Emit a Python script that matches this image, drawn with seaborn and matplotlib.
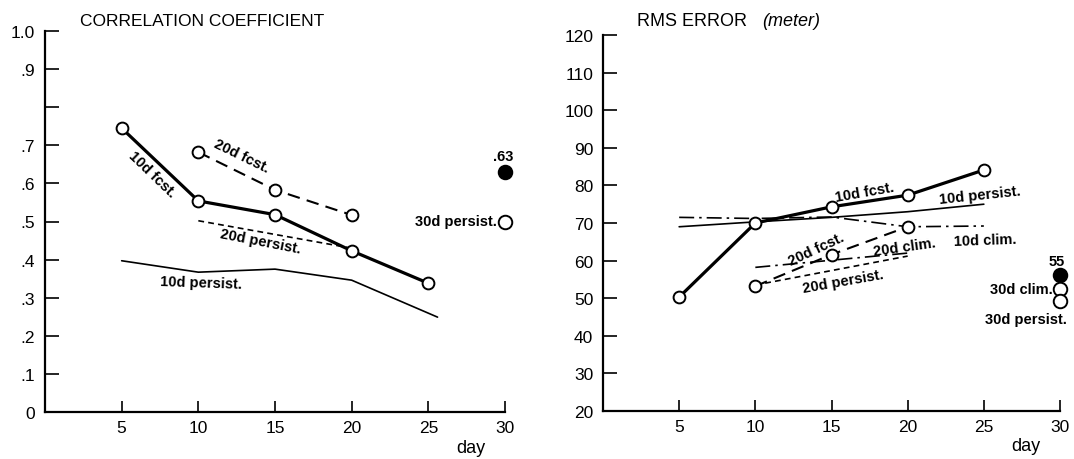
import matplotlib
matplotlib.use("Agg")
import matplotlib.pyplot as plt
from matplotlib import font_manager
import seaborn as sns
import pandas as pd

# ---------------- data ----------------
# Correlation coefficient panel
cc_10d_fcst_x = [5, 10, 15, 20, 25]
cc_10d_fcst_y = [0.745, 0.554, 0.518, 0.423, 0.338]
cc_20d_fcst_x = [10, 15, 20]
cc_20d_fcst_y = [0.682, 0.583, 0.517]
cc_20d_persist_x = [10, 20]
cc_20d_persist_y = [0.502, 0.430]
cc_10d_persist_x = [5, 10, 15, 20, 25.6]
cc_10d_persist_y = [0.397, 0.367, 0.375, 0.346, 0.249]
cc_30d_x = [30]
cc_30d_persist_y = [0.50]
cc_30d_fcst_y = [0.63]

# RMS error panel
rms_10d_fcst_x = [5, 10, 15, 20, 25]
rms_10d_fcst_y = [50.3, 70.0, 74.3, 77.4, 84.1]
rms_10d_persist_x = [5, 10, 15, 20, 25]
rms_10d_persist_y = [69.0, 70.3, 71.5, 73.0, 75.0]
rms_10d_clim_x = [5, 10, 15, 20, 25]
rms_10d_clim_y = [71.5, 71.2, 71.6, 69.0, 69.2]
rms_20d_fcst_x = [10, 15, 20]
rms_20d_fcst_y = [53.2, 61.6, 69.0]
rms_20d_clim_x = [10, 20]
rms_20d_clim_y = [58.2, 62.0]
rms_20d_persist_x = [10, 20]
rms_20d_persist_y = [53.5, 61.2]
rms_30d_x = [30]
rms_30d_fcst_y = [56.2]
rms_30d_clim_y = [52.5]
rms_30d_persist_y = [49.2]

cc_yticks = [0, .1, .2, .3, .4, .5, .6, .7, .8, .9, 1.0]
cc_yticklabels = ["0", ".1", ".2", ".3", ".4", ".5", ".6", ".7", "", ".9", "1.0"]
rms_yticks = [20, 30, 40, 50, 60, 70, 80, 90, 100, 110, 120]
xticks = [5, 10, 15, 20, 25, 30]

# ---------------- style ----------------
sns.set_style("ticks")
avail = {f.name for f in font_manager.fontManager.ttflist}
narrow = "Liberation Sans Narrow" if "Liberation Sans Narrow" in avail else "Liberation Sans"
plt.rcParams["font.family"] = ["Liberation Sans", "DejaVu Sans"]

fig = plt.figure(figsize=(10.74, 4.6), dpi=100)
ax1 = fig.add_axes([45 / 1074, 47 / 460, 460 / 1074, 381 / 460])
ax2 = fig.add_axes([603 / 1074, 48 / 460, 457 / 1074, 376 / 460])

K = "black"
THICK = 2.3
THIN = 1.2
MS = 8.5


def line(ax, x, y, lw, ls="-", marker=None):
    df = pd.DataFrame({"x": x, "y": y})
    kw = dict(color=K, linewidth=lw, linestyle=ls)
    if marker:
        kw.update(marker="o", markersize=MS, markerfacecolor="white",
                  markeredgecolor=K, markeredgewidth=1.4)
    sns.lineplot(data=df, x="x", y="y", ax=ax, sort=False, estimator=None,
                 clip_on=False, zorder=3 if marker else 2, **kw)


def pts(ax, x, y, filled):
    df = pd.DataFrame({"x": x, "y": y})
    sns.scatterplot(data=df, x="x", y="y", ax=ax, s=95,
                    facecolor=K if filled else "white", edgecolor=K,
                    linewidth=1.4, clip_on=False, zorder=4)


LONG = (0, (6, 3.5))
SHORT = (0, (3.5, 2.5))
DASHDOT = (0, (9, 3, 1.5, 3))

# ---- left panel ----
line(ax1, cc_10d_persist_x, cc_10d_persist_y, THIN)
line(ax1, cc_20d_persist_x, cc_20d_persist_y, THIN, SHORT)
line(ax1, cc_20d_fcst_x, cc_20d_fcst_y, 1.5, LONG, marker=True)
line(ax1, cc_10d_fcst_x, cc_10d_fcst_y, THICK, marker=True)
pts(ax1, cc_30d_x, cc_30d_persist_y, False)
pts(ax1, cc_30d_x, cc_30d_fcst_y, True)

# ---- right panel ----
line(ax2, rms_10d_persist_x, rms_10d_persist_y, THIN)
line(ax2, rms_10d_clim_x, rms_10d_clim_y, THIN, DASHDOT)
line(ax2, rms_20d_clim_x, rms_20d_clim_y, THIN, DASHDOT)
line(ax2, rms_20d_persist_x, rms_20d_persist_y, THIN, SHORT)
line(ax2, rms_20d_fcst_x, rms_20d_fcst_y, 1.5, LONG, marker=True)
line(ax2, rms_10d_fcst_x, rms_10d_fcst_y, THICK, marker=True)
pts(ax2, rms_30d_x, rms_30d_fcst_y, True)
pts(ax2, rms_30d_x, rms_30d_clim_y, False)
pts(ax2, rms_30d_x, rms_30d_persist_y, False)

# ---- axes ----
for ax in (ax1, ax2):
    ax.set_xlim(0, 30)
    ax.set_xticks(xticks)
    ax.set_xticklabels([str(t) for t in xticks])
    for s in ("top", "right"):
        ax.spines[s].set_visible(False)
    for s in ("left", "bottom"):
        ax.spines[s].set_linewidth(1.6)
        ax.spines[s].set_color(K)
    ax.tick_params(axis="y", direction="in", length=10, width=1.2, pad=7,
                   labelsize=12.5, colors=K)
    ax.tick_params(axis="x", direction="in", length=8, width=1.2, pad=6,
                   labelsize=12.5, colors=K)
    ax.set_ylabel("")
    ax.set_xlabel("day", fontsize=13, family=narrow, color=K)
    ax.xaxis.set_label_coords(0.925, -0.07)
    ax.xaxis.label.set_ha("center")
    ax.set_facecolor("white")

ax1.set_ylim(0, 1.0)
ax1.set_yticks(cc_yticks)
ax1.set_yticklabels(cc_yticklabels)
ax2.set_ylim(20, 120)
ax2.set_yticks(rms_yticks)
ax2.set_yticklabels([str(t) for t in rms_yticks])

# ---- titles ----
ax1.text(0.076, 1.028, "CORRELATION COEFFICIENT", transform=ax1.transAxes,
         fontsize=12.5, family=narrow, ha="left", va="center", color=K)
ax2.text(0.074, 1.038, "RMS ERROR", transform=ax2.transAxes,
         fontsize=13, family=narrow, ha="left", va="center", color=K)
ax2.text(0.348, 1.038, "(meter)", transform=ax2.transAxes,
         fontsize=13, family=narrow, style="italic", ha="left", va="center", color=K)

# ---- annotations ----
lab = dict(fontsize=10.5, fontweight="bold", color=K, ha="center", va="center",
           rotation_mode="anchor")
ax1.text(6.97, 0.625, "10d fcst.", rotation=-44, **lab)
ax1.text(12.85, 0.672, "20d fcst.", rotation=-26, **lab)
ax1.text(14.05, 0.449, "20d persist.", rotation=-11, **lab)
ax1.text(10.2, 0.341, "10d persist.", rotation=-2, **lab)
ax1.text(29.45, 0.50, "30d persist.", **{**lab, "ha": "right"})
ax1.text(29.9, 0.672, ".63", **lab)

ax2.text(17.2, 78.2, "10d fcst.", rotation=10, **lab)
ax2.text(24.75, 77.4, "10d persist.", rotation=6, **lab)
ax2.text(25.1, 65.5, "10d clim.", rotation=2, **lab)
ax2.text(19.8, 63.6, "20d clim.", rotation=8, **lab)
ax2.text(14.0, 63.1, "20d fcst.", rotation=25, **lab)
ax2.text(15.76, 54.6, "20d persist.", rotation=10, **lab)
ax2.text(29.8, 60.0, "55", **lab)
ax2.text(29.55, 52.5, "30d clim.", **{**lab, "ha": "right"})
ax2.text(27.75, 44.5, "30d persist.", **lab)

fig.savefig("out.png", dpi=100, facecolor="white")
